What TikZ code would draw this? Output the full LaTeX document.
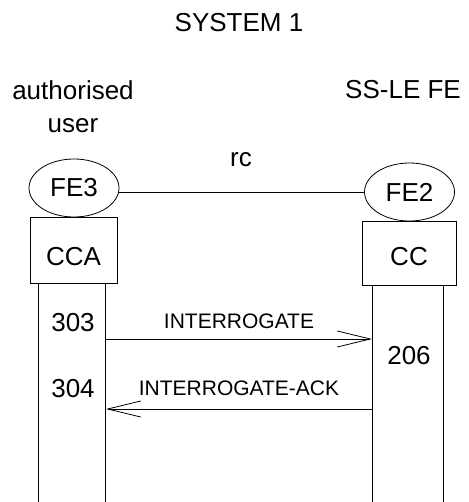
\documentclass[tikz,border=0pt]{standalone}
\usepackage{fontspec}
\setmainfont{Liberation Sans}
\usetikzlibrary{positioning,arrows.meta,shapes.geometric}

\begin{document}
\begin{tikzpicture}[x=1pt,y=-1pt,line width=0.8pt,
  fe/.style={draw,ellipse,minimum width=90pt,minimum height=58pt,inner sep=0pt,font=\fontsize{26}{33}\selectfont},
  fbox/.style={draw,inner sep=0pt,text depth=0pt,font=\fontsize{26}{33}\selectfont},
  lbl/.style={inner sep=0pt,align=center,font=\fontsize{26}{33}\selectfont},
  msg/.style={inner sep=0pt,font=\fontsize{21}{25}\selectfont},
  ar/.style={-{Straight Barb[length=33pt,width=16pt,line width=0.8pt]}}]
\useasboundingbox (0,0) rectangle (468,502);
\node[lbl] (sys) at (239,23) {SYSTEM 1};
\node[lbl] (user) at (73,107) {authorised\\user};
\node[lbl,anchor=base] (ssle) at (403,99) {SS-LE FE};
\node[lbl,anchor=base] (rc) at (241,167) {rc};
% functional entities
\node[fe] (fe3) at (74,188) {FE3};
\node[fe] (fe2) at (409.5,192) {FE2};
\draw (fe3.east |- fe2.west) -- (fe2.west);
\node[fbox,minimum width=87pt,minimum height=66pt,text height=30.6pt] (cca) at (73.5,250) {CCA};
\node[fbox,minimum width=94pt,minimum height=64pt,text height=24.6pt] (cc) at (409,253) {CC};
% lifelines
\coordinate (bot) at (0,502);
\foreach \n/\dx in {cca/9,cca/76,cc/10.5,cc/82}
  \draw ([xshift=\dx pt]\n.south west) -- ([xshift=\dx pt]\n.south west |- bot);
% messages
\coordinate (i1) at (106,339);
\coordinate (i2) at (372,339);
\coordinate (a1) at (372,409);
\coordinate (a2) at (106,409);
\draw[ar] (i1) -- node[msg,above=9.5pt] (int) {INTERROGATE} (i2);
\draw[ar] (a1) -- node[msg,above=13pt] (ack) {INTERROGATE-ACK} (a2);
\node[lbl] (n303) at (73,323) {303};
\node[lbl] (n304) at (73,389) {304};
\node[lbl] (n206) at (409,356) {206};
\end{tikzpicture}
\end{document}
